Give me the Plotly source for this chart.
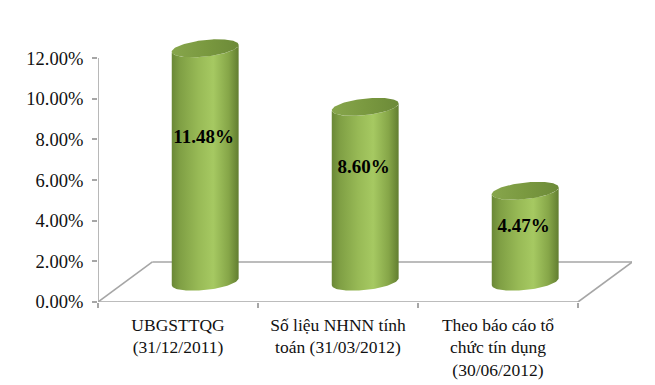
import numpy as np
import plotly.graph_objects as go

categories = ["UBGSTTQG<br>(31/12/2011)",
              "Số liệu NHNN tính<br>toán (31/03/2012)",
              "Theo báo cáo tổ<br>chức tín dụng<br>(30/06/2012)"]
values = [11.48, 8.60, 4.47]
value_labels = ["11.48%", "8.60%", "4.47%"]
y_ticks = [0, 2, 4, 6, 8, 10, 12]
y_tick_labels = ["0.00%", "2.00%", "4.00%", "6.00%", "8.00%", "10.00%", "12.00%"]

# 3D look, in axis units
DEPTH_X, DEPTH_Y = 0.34, 1.97
OFF_X, OFF_Y = DEPTH_X / 2, 1.0
HALF_W, ELL_H, ELL_TILT = 0.209, 0.41, 0.17
LABEL_FRAC = [0.70, 0.765, 0.825]

AXIS = "#a6a6a6"
FONT = "Liberation Serif"
BODY = [[0, "#6a8836"], [0.12, "#7f9f44"], [0.4, "#98ba56"], [0.62, "#a6c962"],
        [0.85, "#86a648"], [1, "#627e30"]]
TOP = [[0, "#87a64c"], [0.5, "#7a9940"], [1, "#6c8a38"]]

t = np.linspace(0, 2 * np.pi, 121)
fig = go.Figure()
xpos = [i + 0.5 for i in range(len(values))]

for xc, v in zip(xpos, values):
    cx = xc + OFF_X
    tb = np.linspace(np.pi, 2 * np.pi, 60)
    ex = HALF_W * np.cos(tb)
    ey = ELL_H * np.sin(tb) + ELL_TILT * np.cos(tb)
    bx = np.r_[cx + ex, cx + ex[::-1]]
    by = np.r_[OFF_Y + ey, (OFF_Y + v) + ey[::-1]]
    fig.add_trace(go.Scatter(x=bx, y=by, mode="lines", line=dict(width=0), fill="toself",
                             fillgradient=dict(type="horizontal", colorscale=BODY),
                             hoverinfo="skip", showlegend=False))
    fig.add_trace(go.Scatter(x=cx + HALF_W * np.cos(t),
                             y=OFF_Y + v + ELL_H * np.sin(t) + ELL_TILT * np.cos(t),
                             mode="lines", line=dict(width=0), fill="toself",
                             fillgradient=dict(type="horizontal", colorscale=TOP),
                             hoverinfo="skip", showlegend=False))

fig.add_trace(go.Scatter(x=[x + OFF_X - 0.01 for x in xpos],
                         y=[v * f for v, f in zip(values, LABEL_FRAC)],
                         mode="text", text=value_labels,
                         textfont=dict(family=FONT, size=19, color="#000000"),
                         texttemplate="<b>%{text}</b>", hoverinfo="skip", showlegend=False))

n = len(values)
line = dict(color=AXIS, width=1.6)
shapes = [
    dict(type="line", x0=0, x1=0, y0=0, y1=12, line=line, layer="below"),
    dict(type="line", x0=0, x1=n, y0=0, y1=0, line=line, layer="below"),
    dict(type="line", x0=0, x1=DEPTH_X, y0=0, y1=DEPTH_Y, line=line, layer="below"),
    dict(type="line", x0=DEPTH_X, x1=n + DEPTH_X, y0=DEPTH_Y, y1=DEPTH_Y, line=line, layer="below"),
    dict(type="line", x0=n, x1=n + DEPTH_X, y0=0, y1=DEPTH_Y, line=line, layer="below"),
]

fig.update_layout(
    width=640, height=376, autosize=False,
    margin=dict(l=90, r=16, t=22, b=82),
    paper_bgcolor="#ffffff", plot_bgcolor="#ffffff",
    shapes=shapes, showlegend=False,
    font=dict(family=FONT, color="#000000"),
    xaxis=dict(range=[0, 3.3375], automargin=False, showgrid=False, zeroline=False, showline=False,
               tickmode="array", tickvals=xpos, ticktext=categories, ticks="", ticklabelstandoff=10,
               tickfont=dict(family=FONT, size=17.5, color="#111111"),
               minor=dict(tickmode="array", tickvals=list(range(n + 1)), ticks="outside",
                          ticklen=5, tickwidth=1.6, tickcolor=AXIS, showgrid=False)),
    yaxis=dict(range=[0, 13.38], automargin=False, showgrid=False, zeroline=False, showline=False,
               tickmode="array", tickvals=y_ticks, ticktext=y_tick_labels, ticks="outside",
               ticklen=5, tickwidth=1.6, tickcolor=AXIS, ticklabelstandoff=5,
               tickfont=dict(family=FONT, size=18.5, color="#111111")),
)
fig.write_html("out.html")
